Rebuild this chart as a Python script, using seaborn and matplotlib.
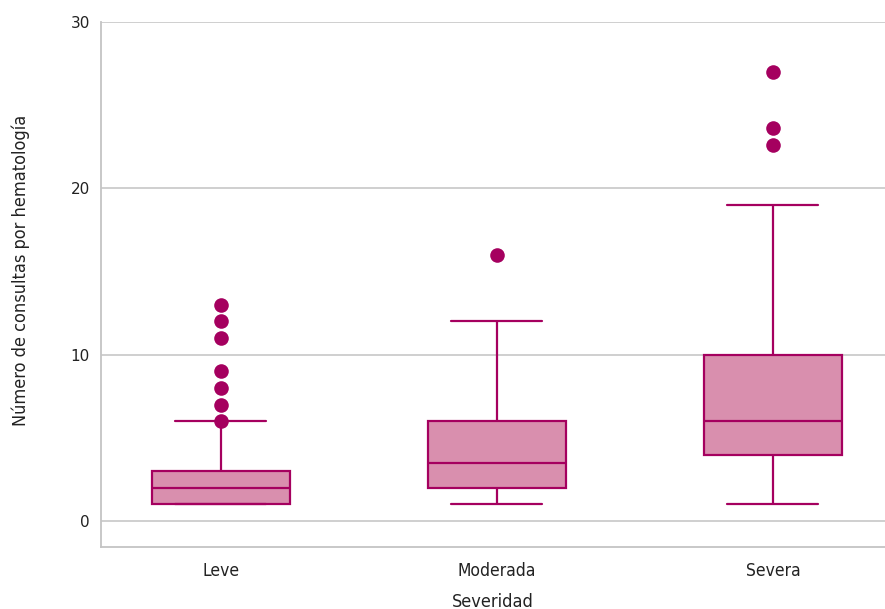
import pandas as pd
import matplotlib.pyplot as plt
import seaborn as sns

# Datos (resumen de cinco números por grupo)
severidad = ["Leve", "Moderada", "Severa"]
minimo = [1, 1, 1]
q1 = [1, 2, 4]
mediana = [2, 3.5, 6]
q3 = [3, 6, 10]
maximo = [6, 12, 19]

# Valores atípicos
atipicos_leve = [6, 7, 8, 9, 11, 12, 13]
atipicos_moderada = [16]
atipicos_severa = [22.6, 23.6, 27]

EDGE = "#A5005F"
FILL = "#D98FAE"

# Tabla larga para seaborn
filas = []
for i, s in enumerate(severidad):
    for v in (minimo[i], q1[i], mediana[i], q3[i], maximo[i]):
        filas.append({"Severidad": s, "Consultas": v})
df = pd.DataFrame(filas)

out = []
for s, vals in zip(severidad, [atipicos_leve, atipicos_moderada, atipicos_severa]):
    for v in vals:
        out.append({"Severidad": s, "Consultas": v})
df_out = pd.DataFrame(out)

sns.set_theme(style="white")
plt.rcParams['font.family'] = ['DejaVu Sans']
plt.rcParams['font.stretch'] = 'condensed'

fig = plt.figure(figsize=(8.85, 6.09), dpi=100)
ax = fig.add_axes([0.114, 0.102, 0.886, 0.862])

sns.boxplot(
    data=df, x="Severidad", y="Consultas", order=severidad,
    width=0.5, whis=float("inf"), showfliers=False,
    color=FILL, saturation=1, linecolor=EDGE, linewidth=1.6,
    capwidths=0.33, ax=ax,
)
for p in ax.patches:
    p.set_facecolor(FILL)
    p.set_edgecolor(EDGE)

sns.stripplot(
    data=df_out, x="Severidad", y="Consultas", order=severidad,
    jitter=False, color=EDGE, size=10.5, linewidth=0, ax=ax, zorder=5,
)

ax.set_xlim(-0.435, 2.406)
ax.set_ylim(-1.55, 30)
ax.set_yticks([0, 10, 20, 30])
ax.yaxis.grid(True, color="#cccccc", linewidth=1.3)
ax.set_axisbelow(True)
for side in ["top", "right"]:
    ax.spines[side].set_visible(False)
for side in ["left", "bottom"]:
    ax.spines[side].set_color("#c4c4c4")
    ax.spines[side].set_linewidth(1.3)

ax.tick_params(axis="both", length=0, labelsize=12.5, colors="#222222", pad=8)
ax.tick_params(axis="x", pad=11)
for lbl in ax.get_yticklabels():
    lbl.set_stretch("normal")
    lbl.set_fontsize(11)
ax.set_xlabel("Severidad", fontsize=13, color="#222222", labelpad=9)
ax.set_ylabel("Número de consultas por hematología", fontsize=13, color="#222222")
ax.yaxis.set_label_coords(-0.09, 0.526)

fig.savefig("out.png", dpi=100)
